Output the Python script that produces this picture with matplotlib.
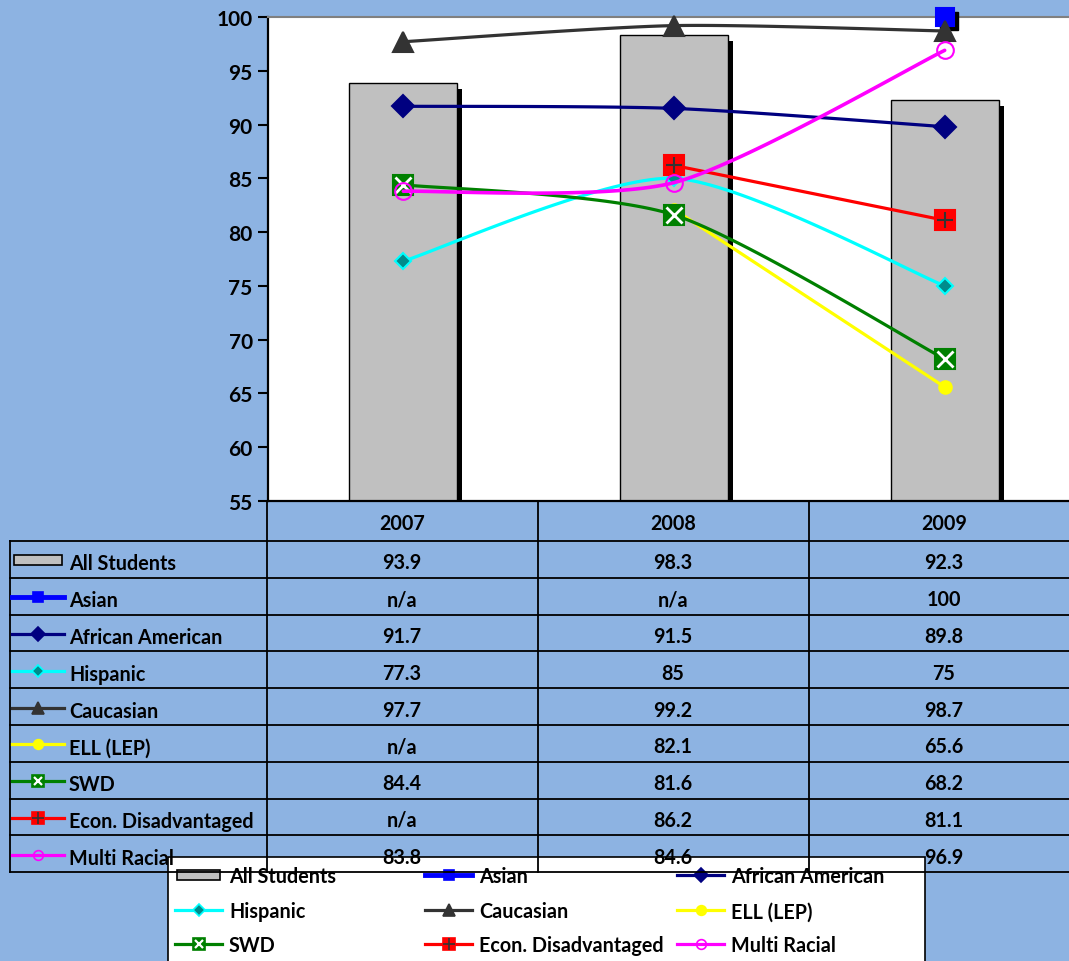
import numpy as np
import matplotlib
matplotlib.use('Agg')
import matplotlib.pyplot as plt
from matplotlib.lines import Line2D
from matplotlib.patches import Rectangle
import matplotlib.transforms as mtrans

plt.rcParams['font.family'] = ['Lato', 'DejaVu Sans']
plt.rcParams['font.weight'] = 'bold'

# ---------------- data ----------------
years = ['2007', '2008', '2009']
all_students = [93.9, 98.3, 92.3]
asian = [np.nan, np.nan, 100]
african_american = [91.7, 91.5, 89.8]
hispanic = [77.3, 85, 75]
caucasian = [97.7, 99.2, 98.7]
ell_lep = [np.nan, 82.1, 65.6]
swd = [84.4, 81.6, 68.2]
econ_dis = [np.nan, 86.2, 81.1]
multi_racial = [83.8, 84.6, 96.9]

bar_name = 'All Students'
line_names = ['Asian', 'African American', 'Hispanic', 'Caucasian', 'ELL (LEP)',
              'SWD', 'Econ. Disadvantaged', 'Multi Racial']
line_values = [asian, african_american, hispanic, caucasian, ell_lep, swd, econ_dis, multi_racial]
y_ticks = [55, 60, 65, 70, 75, 80, 85, 90, 95, 100]

# ---------------- styles ----------------
BG = '#8DB3E2'
styles = {
    'Asian': dict(color='#0000FF', marker='s', mfc='#0000FF', mec='#0000FF', ms=13, lw=3.0, hms=7, hlw=3.5, shadow=True),
    'African American': dict(color='#000080', marker='D', mfc='#000080', mec='#000080', ms=11, lw=2.3, hms=7, hlw=2.3),
    'Hispanic': dict(color='#00FFFF', marker='D', mfc='#008B8B', mec='#00FFFF', ms=8, lw=2.3, hms=6, hlw=2.3),
    'Caucasian': dict(color='#333333', marker='^', mfc='#333333', mec='#333333', ms=14, lw=2.3, hms=9, hlw=2.3),
    'ELL (LEP)': dict(color='#FFFF00', marker='o', mfc='#FFFF00', mec='#FFFF00', ms=9, lw=2.3, hms=7, hlw=2.3),
    'SWD': dict(color='#008000', marker='s', mfc='#008000', mec='#008000', ms=15, lw=2.3, hms=9, hlw=2.3,
                over=dict(marker='x', color='white', ms=11, mew=2.0, hms=6, hmew=1.6)),
    'Econ. Disadvantaged': dict(color='#FF0000', marker='s', mfc='#FF0000', mec='#FF0000', ms=15, lw=2.3, hms=9, hlw=2.3,
                                over=dict(marker='+', color='#333333', ms=12, mew=1.5, hms=8, hmew=1.2)),
    'Multi Racial': dict(color='#FF00FF', marker='o', mfc='none', mec='#FF00FF', ms=12, lw=2.6, hms=7, hlw=2.3),
}
FS = 14.2

W, H = 1069, 962
fig = plt.figure(figsize=(W / 100, H / 100), dpi=100, facecolor=BG)

# plot area in pixel coordinates
PL, PR, PT, PB = 268, 1080, 18, 502
ax = fig.add_axes([PL / W, 1 - PB / H, (PR - PL) / W, (PB - PT) / H])
ax.set_facecolor('white')
ax.set_xlim(-0.5, 2.5)
ax.set_ylim(55, 100)
x = np.arange(len(years))

# bar shadow + bars
shadow_tr = mtrans.offset_copy(ax.transData, fig=fig, x=5, y=-6, units='dots')
ax.bar(x, all_students, width=0.40, color='black', transform=shadow_tr, zorder=1)
ax.bar(x, all_students, width=0.40, color='#C0C0C0', edgecolor='black', linewidth=1.0, zorder=2)

SX, SY = 271.0, 484.0 / 45.0
TENSION = 1.0 / 8.0


def smooth(xs, ys, n=40):
    P = np.column_stack([np.asarray(xs, float) * SX, np.asarray(ys, float) * SY])
    out = []
    m = len(P)
    for i in range(m - 1):
        p0 = P[i - 1] if i > 0 else P[i]
        p1, p2 = P[i], P[i + 1]
        p3 = P[i + 2] if i + 2 < m else P[i + 1]
        c1 = p1 + (p2 - p0) * TENSION
        c2 = p2 - (p3 - p1) * TENSION
        t = np.linspace(0, 1, n)[:, None]
        seg = ((1 - t) ** 3) * p1 + 3 * ((1 - t) ** 2) * t * c1 + 3 * (1 - t) * t ** 2 * c2 + t ** 3 * p2
        out.append(seg if i == 0 else seg[1:])
    Q = np.vstack(out)
    return Q[:, 0] / SX, Q[:, 1] / SY


for k, (name, vals) in enumerate(zip(line_names, line_values)):
    st = styles[name]
    v = np.asarray(vals, float)
    ok = ~np.isnan(v)
    xs, ys = x[ok], v[ok]
    z = 3 + k
    if len(xs) >= 2:
        sx_, sy_ = smooth(xs, ys)
        ax.plot(sx_, sy_, color=st['color'], lw=st['lw'], zorder=z, solid_capstyle='round')
    if st.get('shadow'):
        ax.plot(xs, ys, ls='none', marker=st['marker'], ms=st['ms'], mfc='black', mec='black',
                transform=mtrans.offset_copy(ax.transData, fig=fig, x=4, y=-4, units='dots'), zorder=z, clip_on=False)
    ax.plot(xs, ys, ls='none', marker=st['marker'], ms=st['ms'], mfc=st['mfc'], mec=st['mec'],
            mew=1.5, zorder=z + 0.1, clip_on=False)
    if 'over' in st:
        o = st['over']
        ax.plot(xs, ys, ls='none', marker=o['marker'], ms=o['ms'], color=o['color'], mew=o['mew'],
                zorder=z + 0.2, clip_on=False)

ax.set_xticks([])
ax.set_yticks(y_ticks)
ax.set_yticklabels([str(t) for t in y_ticks], fontsize=15, fontweight='bold')
ax.tick_params(axis='y', direction='out', length=7, width=1.5, pad=4)
for s in ['left', 'bottom']:
    ax.spines[s].set_color('black')
    ax.spines[s].set_linewidth(1.6)
ax.spines['top'].set_color('#808080')
ax.spines['top'].set_linewidth(1.5)
ax.spines['right'].set_visible(False)

# ---------------- overlay: data table + legend ----------------
ov = fig.add_axes([0, 0, 1, 1], zorder=5)
ov.set_xlim(0, W)
ov.set_ylim(H, 0)
ov.axis('off')
ov.patch.set_alpha(0)


def draw_handle(a, x0, x1, y, name, z):
    if name == bar_name:
        a.add_patch(Rectangle((x0 + 2, y - 5), (x1 - x0) - 4, 10, fc='#C0C0C0', ec='black', lw=1.2, zorder=z))
        return
    st = styles[name]
    a.add_line(Line2D([x0, x1], [y, y], color=st['color'], lw=st['hlw'], zorder=z))
    xm = (x0 + x1) / 2
    a.add_line(Line2D([xm], [y], ls='none', marker=st['marker'], ms=st['hms'], mfc=st['mfc'],
                      mec=st['mec'], mew=1.2, zorder=z))
    if 'over' in st:
        o = st['over']
        a.add_line(Line2D([xm], [y], ls='none', marker=o['marker'], ms=o['hms'], color=o['color'],
                          mew=o['hmew'], zorder=z))


# legend (drawn beneath the table)
LX0, LX1, LY0 = 168, 925, 858
ov.add_patch(Rectangle((LX0, LY0), LX1 - LX0, 140, fc='white', ec='black', lw=1.2, zorder=1))
leg_names = [bar_name] + line_names
col_x = [175, 425, 677]
row_y = [876, 911, 945]
for i, name in enumerate(leg_names):
    r, c = divmod(i, 3)
    draw_handle(ov, col_x[c], col_x[c] + 47, row_y[r], name, 2)
    ov.text(col_x[c] + 54, row_y[r] + 1.5, name, fontsize=FS, fontweight='bold', va='center', ha='left', zorder=2)

# table
TL = 10
col_edges = [267, 538, 809, 1080]
col_cx = [402, 673, 944]
hdr_top, hdr_bot = 502, 542
row_h = 36.8
rows_names = [bar_name] + line_names
rows_vals = [all_students] + line_values
n_rows = len(rows_names)
tb = hdr_bot + n_rows * row_h
lc = 'black'
tlw = 1.3
for i in range(n_rows + 1):
    yy = hdr_bot + i * row_h
    ov.add_line(Line2D([TL, W + 5], [yy, yy], color=lc, lw=tlw, zorder=4))
ov.add_line(Line2D([TL, TL], [hdr_bot, tb], color=lc, lw=tlw, zorder=4))
for xe in col_edges[:3]:
    ov.add_line(Line2D([xe, xe], [hdr_top, tb], color=lc, lw=tlw, zorder=4))
for j, yr in enumerate(years):
    ov.text(col_cx[j], (hdr_top + hdr_bot) / 2 + 2, yr,
            fontsize=FS, fontweight='bold', ha='center', va='center', zorder=4)
for i, (name, vals) in enumerate(zip(rows_names, rows_vals)):
    yc = hdr_bot + (i + 0.5) * row_h + 1
    draw_handle(ov, 12, 64, yc, name, 4)
    ov.text(69, yc + 3, name, fontsize=FS, fontweight='bold', ha='left', va='center', zorder=4)
    for j, v in enumerate(vals):
        txt = 'n/a' if np.isnan(v) else f'{v:g}'
        ov.text(col_cx[j], yc + 2, txt, fontsize=FS, fontweight='bold', ha='center', va='center', zorder=4)

fig.savefig('out.png', dpi=100, facecolor=BG)
